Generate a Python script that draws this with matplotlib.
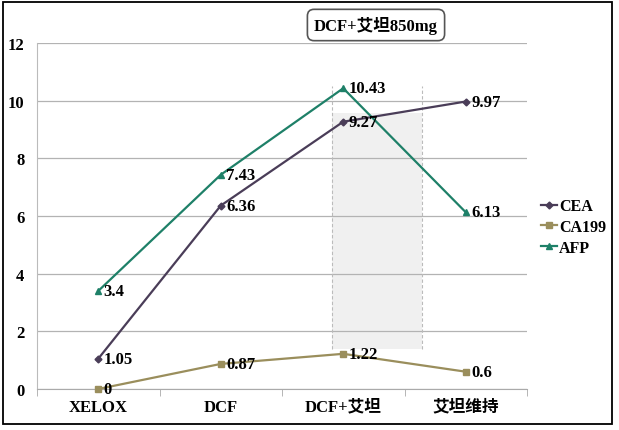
import matplotlib
matplotlib.use("Agg")
import matplotlib.pyplot as plt
from matplotlib.patches import Rectangle

plt.rcParams['font.family'] = ['Liberation Serif', 'Noto Sans CJK SC', 'DejaVu Sans']
plt.rcParams['font.weight'] = 'bold'

categories = ['XELOX', 'DCF', 'DCF+艾坦', '艾坦维持']
cea = [1.05, 6.36, 9.27, 9.97]
ca199 = [0, 0.87, 1.22, 0.6]
afp = [3.4, 7.43, 10.43, 6.13]
cea_labels = ['1.05', '6.36', '9.27', '9.97']
ca199_labels = ['0', '0.87', '1.22', '0.6']
afp_labels = ['3.4', '7.43', '10.43', '6.13']
yticks = [0, 2, 4, 6, 8, 10, 12]
box_title = 'DCF+艾坦850mg'

c_cea = '#4A3D58'
c_ca = '#9A8E5C'
c_afp = '#1E8068'

fs = 12

fig = plt.figure(figsize=(6.19, 4.31), dpi=100)
ax = fig.add_axes([37/619, 41/431, 490/619, 346/431])

x = list(range(len(categories)))

# shaded band and dashed lines
ax.add_patch(Rectangle((1.91, 1.39), 0.73, 9.58-1.39, facecolor='#F0F0F0', edgecolor='none', zorder=0.5))
for xv in (1.91, 2.64):
    ax.plot([xv, xv], [1.39, 10.52], color='#BBBBBB', lw=0.8, ls=(0, (3, 2)), zorder=0.6)

ax.plot(x, cea, color=c_cea, lw=1.6, marker='D', ms=3.5, label='CEA', zorder=3, clip_on=False)
ax.plot(x, ca199, color=c_ca, lw=1.6, marker='s', ms=5, label='CA199', zorder=3, clip_on=False)
ax.plot(x, afp, color=c_afp, lw=1.6, marker='^', ms=5, label='AFP', zorder=3, clip_on=False)

for vals, labs in ((cea, cea_labels), (ca199, ca199_labels), (afp, afp_labels)):
    for xi, v, t in zip(x, vals, labs):
        ax.annotate(t, (xi, v), xytext=(4, 0), textcoords='offset points',
                    ha='left', va='center', fontsize=fs, fontweight='bold', zorder=4)

ax.set_xlim(-0.5, 3.5)
ax.set_ylim(0, 12)
ax.set_yticks(yticks)
ax.set_yticklabels([str(v) for v in yticks], fontsize=fs, fontweight='bold')
ax.set_xticks(x)
ax.set_xticklabels(categories, fontsize=fs, fontweight='bold')
ax.set_xticks([-0.5, 0.5, 1.5, 2.5, 3.5], minor=True)
ax.tick_params(axis='x', which='major', length=0, pad=7)
ax.tick_params(axis='x', which='minor', length=5, color='#AAAAAA')
ax.tick_params(axis='y', length=0, pad=9)
ax.grid(axis='y', color='#B3B3B3', lw=0.9)
ax.set_axisbelow(True)
for s in ('top', 'right'):
    ax.spines[s].set_visible(False)
ax.spines['left'].set_color('#BBBBBB')
ax.spines['bottom'].set_color('#AAAAAA')

leg = ax.legend(loc='center left', bbox_to_anchor=(1.0, 0.468), frameon=False,
                prop={'weight': 'bold', 'size': 11.5}, handlelength=1.0,
                handletextpad=0.1, labelspacing=0.3, borderaxespad=0.5)

# title box
fig.text(376/619, 1-26/431, box_title, ha='center', va='center', fontsize=fs, fontweight='bold',
         bbox=dict(boxstyle='round,pad=0.4,rounding_size=0.4', facecolor='white', edgecolor='#555555', lw=1.2))

# outer border
fig.patches.append(Rectangle((3/619, 6/431), 609/619, 422/431, transform=fig.transFigure,
                             facecolor='none', edgecolor='black', lw=1.3))

fig.savefig('out.png', dpi=100)
